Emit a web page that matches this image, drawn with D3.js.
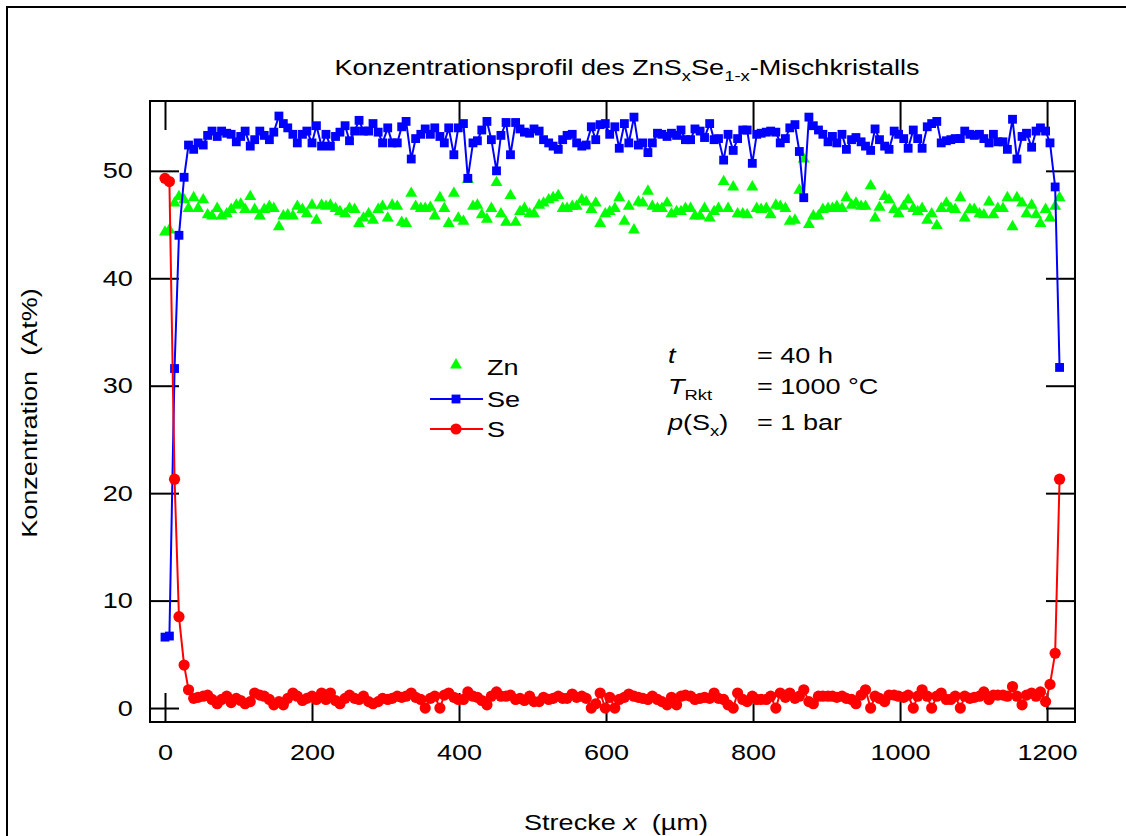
<!DOCTYPE html>
<html>
<head>
<meta charset="utf-8">
<script src="https://cdn.jsdelivr.net/npm/d3@7"></script>
<style>
  body { margin: 0; background: #fff; }
  svg text { font-family: "Liberation Sans", Arial, sans-serif; fill: #000; font-size: 22px; }
</style>
</head>
<body>
<svg id="chart" width="1126" height="836"></svg>
<script>
// measuring positions along the line scan (µm)
const positions = [
    0, 6, 13, 19, 26, 32, 39, 45, 52, 58,
    64, 71, 77, 84, 90, 97, 103, 109, 116, 122,
    129, 135, 142, 148, 155, 161, 167, 174, 180, 187,
    193, 200, 206, 213, 219, 225, 232, 238, 245, 251,
    258, 264, 270, 277, 283, 290, 296, 303, 309, 316,
    322, 328, 335, 341, 348, 354, 361, 367, 374, 380,
    386, 393, 399, 406, 412, 419, 425, 431, 438, 444,
    451, 457, 464, 470, 477, 483, 489, 496, 502, 509,
    515, 522, 528, 535, 541, 547, 554, 560, 567, 573,
    580, 586, 592, 599, 605, 612, 618, 625, 631, 638,
    644, 650, 657, 663, 670, 676, 683, 689, 696, 702,
    708, 715, 721, 728, 734, 741, 747, 753, 760, 766,
    773, 779, 786, 792, 799, 805, 811, 818, 824, 831,
    837, 844, 850, 857, 863, 869, 876, 882, 889, 895,
    902, 908, 914, 921, 927, 934, 940, 947, 953, 960,
    966, 972, 979, 985, 992, 998, 1005, 1011, 1018, 1024,
    1030, 1037, 1043, 1050, 1056, 1063, 1069, 1075, 1082, 1088,
    1095, 1101, 1108, 1114, 1121, 1127, 1133, 1140, 1146, 1153,
    1159, 1166, 1172, 1179, 1185, 1191, 1198, 1204, 1211, 1217
];

// At% Zn
const zn = [
    44.3, 44.5, 47.0, 47.6, 47.3, 46.5, 47.5, 46.5, 47.3, 45.9,
    45.8, 46.5, 45.8, 46.0, 46.4, 46.8, 46.9, 46.4, 47.6, 46.4,
    45.8, 46.4, 46.7, 46.5, 44.8, 45.8, 45.9, 45.8, 46.7, 46.4,
    46.0, 46.8, 45.4, 46.8, 46.7, 46.8, 46.5, 46.2, 46.0, 46.5,
    46.4, 45.1, 45.6, 46.0, 45.4, 46.4, 46.7, 45.6, 46.8, 46.7,
    45.2, 45.1, 47.9, 46.7, 46.5, 46.5, 46.6, 45.8, 47.5, 46.5,
    45.1, 47.9, 45.6, 45.3, 49.2, 46.7, 46.8, 45.9, 45.5, 46.5,
    48.9, 46.0, 45.2, 47.7, 45.2, 46.2, 46.5, 46.0, 46.0, 46.8,
    47.0, 47.3, 47.5, 47.7, 46.5, 46.5, 46.7, 46.7, 47.3, 47.1,
    46.4, 47.0, 45.1, 46.0, 46.2, 46.5, 47.5, 45.3, 46.7, 44.5,
    47.1, 47.0, 48.1, 46.7, 46.5, 46.5, 47.0, 46.0, 46.2, 46.2,
    46.5, 46.5, 45.8, 45.8, 46.5, 45.6, 46.2, 46.5, 49.0, 46.5,
    48.5, 46.0, 46.0, 45.9, 48.5, 46.5, 46.4, 46.5, 45.9, 46.8,
    46.7, 46.5, 45.3, 45.4, 48.2, 51.1, 45.0, 45.8, 45.8, 46.4,
    46.5, 46.5, 46.7, 46.5, 47.5, 46.8, 47.0, 46.7, 46.7, 48.6,
    45.6, 46.6, 47.6, 47.3, 46.4, 46.0, 46.7, 47.3, 46.5, 46.2,
    46.5, 45.4, 46.0, 44.9, 46.5, 47.0, 46.5, 46.4, 47.5, 45.6,
    46.4, 46.4, 46.0, 45.9, 47.1, 45.9, 46.5, 46.5, 47.5, 44.8,
    47.5, 47.0, 46.0, 46.8, 45.9, 45.1, 46.4, 45.6, 46.7, 47.5
];

// At% Se
const se = [
    6.6, 6.7, 31.6, 44.0, 49.4, 52.4, 52.0, 52.6, 52.4, 53.3,
    53.7, 53.2, 53.7, 53.5, 53.4, 52.7, 53.2, 53.7, 52.3, 52.9,
    53.7, 53.3, 52.9, 53.6, 55.1, 54.4, 54.0, 53.4, 52.6, 53.4,
    53.7, 52.6, 54.2, 52.3, 53.4, 52.3, 53.2, 53.6, 54.2, 52.8,
    53.7, 54.7, 53.7, 53.7, 54.4, 53.6, 52.6, 54.0, 52.6, 52.6,
    54.1, 54.6, 51.1, 53.0, 53.4, 53.9, 53.4, 54.0, 53.2, 52.6,
    54.0, 51.5, 54.0, 54.4, 49.3, 52.6, 52.8, 53.8, 54.6, 52.9,
    50.0, 53.3, 54.5, 51.5, 54.5, 53.9, 53.6, 53.5, 53.9, 53.7,
    52.9, 52.6, 52.3, 52.0, 52.9, 53.3, 53.4, 52.6, 52.3, 52.4,
    54.1, 52.9, 54.3, 54.4, 53.4, 54.1, 52.1, 54.4, 52.6, 55.0,
    52.4, 52.6, 51.7, 52.6, 53.5, 53.4, 53.2, 53.5, 53.3, 53.8,
    52.9, 52.9, 53.9, 53.7, 53.1, 54.4, 52.9, 53.0, 51.0, 53.4,
    51.9, 53.0, 53.8, 53.8, 50.7, 53.4, 53.5, 53.6, 53.7, 53.6,
    52.6, 53.0, 54.0, 54.3, 51.8, 47.5, 55.0, 54.2, 53.8, 53.4,
    52.7, 53.2, 52.6, 53.4, 52.0, 52.9, 53.1, 52.7, 52.3, 51.9,
    53.9, 52.9, 52.3, 52.0, 53.7, 53.4, 53.0, 52.1, 53.8, 53.0,
    52.1, 54.1, 54.4, 54.6, 52.6, 52.8, 52.9, 53.0, 53.0, 53.7,
    53.4, 53.3, 53.4, 53.0, 52.6, 53.4, 52.7, 52.7, 52.0, 54.8,
    51.1, 53.2, 53.5, 52.2, 53.7, 54.0, 53.7, 52.6, 48.5, 31.7
];

// At% S
const s = [
    49.3, 49.0, 21.3, 8.5, 4.0, 1.7, 0.9, 1.0, 1.1, 1.2,
    0.8, 0.4, 0.8, 1.1, 0.5, 0.9, 0.7, 0.4, 0.6, 1.4,
    1.2, 1.1, 0.8, 0.3, 0.6, 0.3, 0.9, 1.4, 1.1, 0.7,
    0.9, 1.1, 0.8, 1.4, 0.8, 1.4, 0.7, 0.4, 0.9, 1.2,
    0.9, 0.8, 1.1, 0.6, 0.4, 0.6, 0.9, 0.8, 0.9, 1.1,
    1.0, 1.1, 1.4, 1.0, 0.8, 0.0, 0.9, 1.1, 0.0, 1.2,
    1.4, 1.0, 0.8, 0.8, 1.5, 1.1, 1.0, 0.7, 0.3, 1.1,
    1.5, 1.1, 1.1, 1.2, 0.8, 0.9, 0.7, 1.1, 0.6, 0.6,
    1.0, 0.8, 0.9, 1.1, 0.9, 0.9, 1.3, 1.0, 1.1, 0.9,
    0.0, 0.4, 1.4, 0.0, 1.0, 0.0, 0.8, 1.0, 1.3, 1.1,
    1.0, 0.9, 0.8, 1.1, 0.8, 0.6, 0.3, 1.0, 0.3, 1.1,
    1.2, 1.1, 0.8, 0.9, 1.0, 0.9, 1.4, 0.9, 0.8, 0.3,
    0.0, 1.4, 0.8, 0.6, 1.1, 0.8, 0.8, 0.8, 1.1, 0.0,
    1.4, 1.0, 1.4, 0.9, 1.1, 1.7, 0.6, 0.4, 1.1, 1.1,
    1.1, 1.1, 1.0, 1.1, 0.9, 0.8, 0.4, 1.2, 1.7, 0.0,
    1.1, 0.9, 0.6, 1.2, 1.2, 1.1, 1.0, 1.2, 0.0, 1.1,
    1.7, 1.1, 0.0, 1.1, 1.4, 0.8, 0.8, 1.1, 0.0, 1.1,
    0.9, 1.0, 1.1, 1.5, 0.8, 1.2, 1.2, 1.2, 1.1, 2.0,
    1.1, 0.3, 1.2, 1.4, 1.1, 1.5, 0.6, 2.2, 5.1, 21.3
];

const xTicks = [0, 200, 400, 600, 800, 1000, 1200];
const yTicks = [0, 10, 20, 30, 40, 50];

const svg = d3.select("#chart");
const plotLeft = 150, plotRight = 1075, plotTop = 101, plotBottom = 722;
const tick = 29;
const wide = 1.23;   // the original lettering is set wider than Arial

let x = d3.scaleLinear().domain([-20.4, 1238]).range([plotLeft, plotRight]);
let y = d3.scaleLinear().domain([-1.3, 56.5]).range([plotBottom, plotTop]);

// text placed at (px,py), stretched horizontally
function label(parent, px, py, anchor, rot) {
    return parent.append("text")
        .attr("transform", `translate(${px},${py})` + (rot ? ` rotate(${rot})` : "") + ` scale(${wide},1)`)
        .attr("text-anchor", anchor || "start")
        .style("white-space", "pre");
}
function sub(t, str) {
    t.append("tspan").attr("dy", 6).style("font-size", "15px").text(str);
    return t;
}

// outer figure border (top and left edge)
svg.append("path")
    .attr("d", "M7,836 L7,7 L1126,7")
    .attr("fill", "none").attr("stroke", "#000").attr("stroke-width", 2);

// axes, ticks pointing inwards on all four sides
function styleAxis(g) {
    g.select(".domain").remove();
    g.selectAll(".tick line").attr("stroke", "#000").attr("stroke-width", 2);
    g.selectAll(".tick text").attr("fill", "#000").attr("transform", `scale(${wide},1)`);
}
svg.append("g").attr("transform", `translate(0,${plotBottom})`)
    .call(d3.axisBottom(x).tickValues(xTicks).tickFormat(d3.format("d"))
        .tickSizeInner(-tick).tickSizeOuter(0).tickPadding(22))
    .call(styleAxis);
svg.append("g").attr("transform", `translate(0,${plotTop})`)
    .call(d3.axisTop(x).tickValues(xTicks).tickSizeInner(-tick).tickSizeOuter(0).tickFormat(""))
    .call(styleAxis);
svg.append("g").attr("transform", `translate(${plotLeft},0)`)
    .call(d3.axisLeft(y).tickValues(yTicks).tickFormat(d3.format("d"))
        .tickSizeInner(-tick).tickSizeOuter(0).tickPadding(14))
    .call(styleAxis);
svg.append("g").attr("transform", `translate(${plotRight},0)`)
    .call(d3.axisRight(y).tickValues(yTicks).tickSizeInner(-tick).tickSizeOuter(0).tickFormat(""))
    .call(styleAxis);

svg.append("rect")
    .attr("x", plotLeft).attr("y", plotTop)
    .attr("width", plotRight - plotLeft).attr("height", plotBottom - plotTop)
    .attr("fill", "none").attr("stroke", "#000").attr("stroke-width", 2);

const tri = d3.symbol(d3.symbolTriangle, 62);
const sq = d3.symbol(d3.symbolSquare, 78);
const line = d3.line().x(d => x(d[0])).y(d => y(d[1]));

// Zn: markers only
svg.append("g").selectAll("path")
    .data(d3.zip(positions, zn))
    .join("path")
    .attr("d", tri)
    .attr("transform", d => `translate(${x(d[0])},${y(d[1])})`)
    .attr("fill", "#00ff00");

// Se: line + squares
svg.append("path")
    .datum(d3.zip(positions, se))
    .attr("d", line)
    .attr("fill", "none").attr("stroke", "#0000ff").attr("stroke-width", 2);
svg.append("g").selectAll("path")
    .data(d3.zip(positions, se))
    .join("path")
    .attr("d", sq)
    .attr("transform", d => `translate(${x(d[0])},${y(d[1])})`)
    .attr("fill", "#0000ff");

// S: line + circles
svg.append("path")
    .datum(d3.zip(positions, s))
    .attr("d", line)
    .attr("fill", "none").attr("stroke", "#ff0000").attr("stroke-width", 2);
svg.append("g").selectAll("circle")
    .data(d3.zip(positions, s))
    .join("circle")
    .attr("cx", d => x(d[0])).attr("cy", d => y(d[1]))
    .attr("r", 5.6)
    .attr("fill", "#ff0000");

// title
let title = label(svg, 627, 75, "middle");
title.append("tspan").text("Konzentrationsprofil des ZnS");
sub(title, "x");
title.append("tspan").attr("dy", -6).text("Se");
sub(title, "1-x");
title.append("tspan").attr("dy", -6).text("-Mischkristalls");

// axis titles
let xTitle = label(svg, 616, 830, "middle");
xTitle.append("tspan").text("Strecke ");
xTitle.append("tspan").style("font-style", "italic").text("x");
xTitle.append("tspan").text("  (µm)");

label(svg, 37, 413, "middle", -90).text("Konzentration  (At%)");

// legend
const legend = svg.append("g");
legend.append("path").attr("d", tri)
    .attr("transform", "translate(456,365)").attr("fill", "#00ff00");
label(legend, 487, 375).text("Zn");

legend.append("line").attr("x1", 430).attr("x2", 483).attr("y1", 399).attr("y2", 399)
    .attr("stroke", "#0000ff").attr("stroke-width", 2);
legend.append("path").attr("d", sq)
    .attr("transform", "translate(456,399)").attr("fill", "#0000ff");
label(legend, 487, 407).text("Se");

legend.append("line").attr("x1", 430).attr("x2", 483).attr("y1", 429).attr("y2", 429)
    .attr("stroke", "#ff0000").attr("stroke-width", 2);
legend.append("circle").attr("cx", 456).attr("cy", 429).attr("r", 5.6).attr("fill", "#ff0000");
label(legend, 487, 437).text("S");

// experiment conditions
const cond = svg.append("g");
label(cond, 668, 363).append("tspan").style("font-style", "italic").text("t");
label(cond, 757, 363).text("= 40 h");

let t2 = label(cond, 668, 394);
t2.append("tspan").style("font-style", "italic").text("T");
sub(t2, "Rkt");
label(cond, 757, 394).text("= 1000 °C");

let t3 = label(cond, 668, 430);
t3.append("tspan").style("font-style", "italic").text("p");
t3.append("tspan").text("(S");
sub(t3, "x");
t3.append("tspan").attr("dy", -6).text(")");
label(cond, 757, 430).text("= 1 bar");
</script>
</body>
</html>
